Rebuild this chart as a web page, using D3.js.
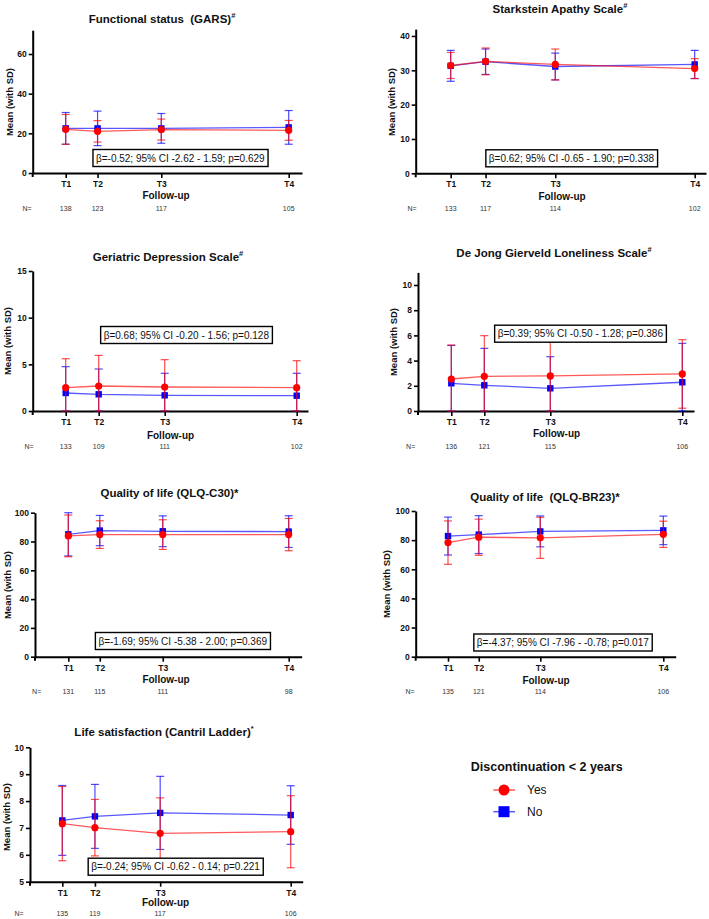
<!DOCTYPE html>
<html><head><meta charset="utf-8">
<script src="https://cdn.jsdelivr.net/npm/d3@7"></script>
<style>
body{margin:0;background:#fff}
svg{display:block}
text{font-family:"Liberation Sans",Arial,Helvetica,sans-serif;white-space:pre}
</style>
</head><body>
<svg id="c" width="709" height="919"></svg>
<script>
// ---------- DATA ----------
const timepoints = ["T1", "T2", "T3", "T4"];
const timeValues = [0, 1, 3, 7];
const seriesNames = ["Yes", "No"];
const legendTitle = "Discontinuation < 2 years";

const garsYesMean = [22.0, 21.0, 21.9, 21.5];
const garsYesSD   = [7.5, 5.4, 5.3, 5.0];
const garsNoMean  = [22.5, 22.5, 22.5, 23.0];
const garsNoSD    = [8.0, 8.7, 7.5, 8.5];
const garsN       = [138, 123, 117, 105];

const apathyYesMean = [31.4, 32.6, 31.7, 30.5];
const apathyYesSD   = [3.8, 3.9, 4.5, 2.9];
const apathyNoMean  = [31.3, 32.5, 31.1, 31.7];
const apathyNoSD    = [4.5, 3.7, 3.9, 4.1];
const apathyN       = [133, 117, 114, 102];

const gdsYesMean = [2.5, 2.68, 2.57, 2.5];
const gdsYesSD   = [3.1, 3.28, 2.93, 2.89];
const gdsNoMean  = [1.93, 1.79, 1.68, 1.64];
const gdsNoSD    = [2.82, 2.71, 2.36, 2.4];
const gdsN       = [133, 109, 111, 102];

const lonelyYesMean = [2.54, 2.75, 2.78, 2.94];
const lonelyYesSD   = [2.7, 3.23, 2.78, 2.72];
const lonelyNoMean  = [2.2, 2.04, 1.8, 2.28];
const lonelyNoSD    = [3.0, 2.93, 2.51, 3.09];
const lonelyN       = [136, 121, 115, 106];

const c30YesMean = [83.9, 84.8, 84.8, 84.8];
const c30YesSD   = [14.5, 9.6, 10.3, 11.2];
const c30NoMean  = [85.0, 87.6, 87.1, 86.9];
const c30NoSD    = [15.0, 10.5, 10.7, 11.0];
const c30N       = [131, 115, 111, 98];

const br23YesMean = [78.3, 82.0, 81.6, 84.0];
const br23YesSD   = [14.9, 12.4, 14.1, 9.0];
const br23NoMean  = [82.8, 83.8, 86.0, 86.7];
const br23NoSD    = [13.0, 13.0, 10.6, 9.8];
const br23N       = [135, 121, 114, 106];

const cantrilYesMean = [7.16, 7.01, 6.80, 6.86];
const cantrilYesSD   = [1.38, 1.05, 1.32, 1.34];
const cantrilNoMean  = [7.28, 7.43, 7.56, 7.48];
const cantrilNoSD    = [1.30, 1.19, 1.36, 1.09];
const cantrilN       = [135, 119, 117, 106];

const panelTitles = ["Functional status  (GARS)", "Starkstein Apathy Scale", "Geriatric Depression Scale",
  "De Jong Gierveld Loneliness Scale", "Quality of life (QLQ-C30)*", "Quality of life  (QLQ-BR23)*",
  "Life satisfaction (Cantril Ladder)"];
const titleSups = ["#", "#", "#", "#", "", "", "*"];
const statTexts = [
  "β=-0.52; 95% CI -2.62 - 1.59; p=0.629",
  "β=0.62; 95% CI -0.65 - 1.90; p=0.338",
  "β=0.68; 95% CI -0.20 - 1.56; p=0.128",
  "β=0.39; 95% CI -0.50 - 1.28; p=0.386",
  "β=-1.69; 95% CI -5.38 - 2.00; p=0.369",
  "β=-4.37; 95% CI -7.96 - -0.78; p=0.017",
  "β=-0.24; 95% CI -0.62 - 0.14; p=0.221"];
const yTickSets = [[0,20,40,60],[0,10,20,30,40],[0,5,10,15],[0,2,4,6,8,10],[0,20,40,60,80,100],[0,20,40,60,80,100],[5,6,7,8,9,10]];
const yDomains = [[0,72],[0,42],[0,15],[0,11],[0,100],[0,100],[5,10]];

// ---------- LAYOUT (positions only) ----------
const layouts = [
  {ax:32.7, right:302, t1:65.7, t4:288.7, yr:[173,30.2], tx:162, ty:23, ylx:9, yly:102, fx:166, fy:198.5, ny:210.5, nx:27, bx:180.3, by:158},
  {ax:415.7, right:706, t1:450.7, t4:694.7, yr:[173.3,29.1], tx:560, ty:13, ylx:391.5, yly:102, fx:562, fy:200, ny:210.5, nx:412, bx:571.5, by:158.3},
  {ax:32.7, right:308, t1:65.7, t4:296.7, yr:[411,271], tx:168, ty:260.5, ylx:7.5, yly:341, fx:170.5, fy:438.5, ny:449, nx:29, bx:186.3, by:335},
  {ax:418, right:694, t1:451.3, t4:682.3, yr:[411,272.4], tx:554, ty:257, ylx:393, yly:342, fx:556.5, fy:437, ny:449, nx:410.7, bx:580.3, by:333.7},
  {ax:35, right:301.7, t1:68.3, t4:288.7, yr:[656.7,512.7], tx:169.5, ty:496.5, ylx:7.5, yly:585, fx:166, fy:682.5, ny:693.5, nx:36.7, bx:182.7, by:641},
  {ax:415.7, right:675.7, t1:448, t4:663.3, yr:[656.7,511], tx:545, ty:500.5, ylx:386.5, yly:584, fx:546, fy:684, ny:693.5, nx:410, bx:562.8, by:642.5},
  {ax:30, right:302.7, t1:62.3, t4:290.7, yr:[881.7,747.3], tx:164, ty:735.5, ylx:6, yly:817, fx:165.5, fy:905.5, ny:916, nx:19, bx:175.5, by:866.7}
];

const panelData = [
  [garsYesMean, garsYesSD, garsNoMean, garsNoSD, garsN],
  [apathyYesMean, apathyYesSD, apathyNoMean, apathyNoSD, apathyN],
  [gdsYesMean, gdsYesSD, gdsNoMean, gdsNoSD, gdsN],
  [lonelyYesMean, lonelyYesSD, lonelyNoMean, lonelyNoSD, lonelyN],
  [c30YesMean, c30YesSD, c30NoMean, c30NoSD, c30N],
  [br23YesMean, br23YesSD, br23NoMean, br23NoSD, br23N],
  [cantrilYesMean, cantrilYesSD, cantrilNoMean, cantrilNoSD, cantrilN]
];

const RED = "#ff0000", BLUE = "#0000ff";
const svg = d3.select("#c");

panelData.forEach((pd, i) => {
  const L = layouts[i];
  const [yesM, yesS, noM, noS, nArr] = pd;
  const g = svg.append("g");
  const xBase = d3.scaleLinear().domain([timeValues[0], timeValues[3]]).range([L.t1, L.t4]);
  const x = d3.scaleLinear().domain([xBase.invert(L.ax), xBase.invert(L.right)]).range([L.ax, L.right]);
  const dom = yDomains[i];
  const y = d3.scaleLinear().domain(dom).range(L.yr);

  // axes
  const xa = g.append("g").attr("transform", `translate(0,${L.yr[0]})`)
    .call(d3.axisBottom(x).tickValues(timeValues).tickFormat((d, k) => timepoints[k]).tickSize(5).tickPadding(3).tickSizeOuter(0));
  const ya = g.append("g").attr("transform", `translate(${L.ax},0)`)
    .call(d3.axisLeft(y).tickValues(yTickSets[i]).tickFormat(d3.format("d")).tickSize(4).tickPadding(2).tickSizeOuter(0));
  [xa, ya].forEach(a => {
    a.attr("font-family", null).attr("font-size", null);
    a.select(".domain").attr("stroke", "#000").attr("stroke-width", 2);
    a.selectAll(".tick line").attr("stroke", "#000").attr("stroke-width", 1.6);
    a.selectAll(".tick text").attr("fill", "#111").style("font-size", "8.5px").style("font-weight", "bold");
  });
  g.append("line").attr("x1", L.ax).attr("x2", L.ax).attr("y1", L.yr[0]).attr("y2", L.yr[0] + 4)
    .attr("stroke", "#000").attr("stroke-width", 2);

  // titles and labels
  const t = g.append("text").attr("x", L.tx).attr("y", L.ty).attr("text-anchor", "middle")
    .style("font-size", "11.5px").style("font-weight", "bold").attr("fill", "#111");
  t.append("tspan").text(panelTitles[i]);
  if (titleSups[i]) t.append("tspan").attr("dy", -5).style("font-size", "7.5px").text(titleSups[i]);

  g.append("text").attr("transform", `translate(${L.ylx + 3.5},${L.yly}) rotate(-90)`).attr("text-anchor", "middle")
    .style("font-size", "9.5px").style("font-weight", "bold").attr("fill", "#111").text("Mean (with SD)");
  g.append("text").attr("x", L.fx).attr("y", L.fy).attr("text-anchor", "middle")
    .style("font-size", "10px").style("font-weight", "bold").attr("fill", "#111").text("Follow-up");

  // N row
  g.append("text").attr("x", L.nx).attr("y", L.ny).attr("text-anchor", "middle")
    .style("font-size", "7px").attr("fill", "#333").text("N=");
  g.selectAll("text.n").data(nArr).enter().append("text").attr("class", "n")
    .attr("x", (d, k) => x(timeValues[k])).attr("y", L.ny).attr("text-anchor", "middle")
    .style("font-size", "7px").attr("fill", "#333").text(d => d);

  // series: No (blue) first, then Yes (red)
  const series = [
    {m: noM, s: noS, color: BLUE, shape: "square"},
    {m: yesM, s: yesS, color: RED, shape: "circle"}
  ];
  series.forEach(S => {
    const pts = S.m.map((v, k) => ({t: timeValues[k], m: v, lo: Math.max(v - S.s[k], dom[0]), hi: Math.min(v + S.s[k], dom[1] + 2)}));
    const sg = g.append("g");
    const eb = sg.selectAll("g.eb").data(pts).enter().append("g").attr("class", "eb").attr("stroke", S.color)
      .attr("stroke-opacity", 0.7).attr("stroke-width", 1.2);
    eb.append("line").attr("x1", d => x(d.t)).attr("x2", d => x(d.t)).attr("y1", d => y(d.lo)).attr("y2", d => y(d.hi));
    eb.append("line").attr("x1", d => x(d.t) - 4).attr("x2", d => x(d.t) + 4).attr("y1", d => y(d.hi)).attr("y2", d => y(d.hi));
    eb.append("line").attr("x1", d => x(d.t) - 4).attr("x2", d => x(d.t) + 4).attr("y1", d => y(d.lo)).attr("y2", d => y(d.lo));
    sg.append("path").datum(pts).attr("fill", "none").attr("stroke", S.color).attr("stroke-opacity", 0.65)
      .attr("stroke-width", 1.3).attr("d", d3.line().x(d => x(d.t)).y(d => y(d.m)));
    if (S.shape === "circle") {
      sg.selectAll("circle").data(pts).enter().append("circle")
        .attr("cx", d => x(d.t)).attr("cy", d => y(d.m)).attr("r", 3.6).attr("fill", S.color);
    } else {
      sg.selectAll("rect").data(pts).enter().append("rect")
        .attr("x", d => x(d.t) - 3.2).attr("y", d => y(d.m) - 3.2).attr("width", 6.4).attr("height", 6.4).attr("fill", S.color);
    }
  });

  // stat box
  const bt = g.append("text").attr("x", L.bx).attr("y", L.by).attr("text-anchor", "middle")
    .attr("dominant-baseline", "central").style("font-size", "10px").attr("fill", "#111").text(statTexts[i]);
  const bb = bt.node().getBBox();
  g.insert("rect", () => bt.node()).attr("x", bb.x - 3).attr("y", L.by - 8.5).attr("width", bb.width + 6).attr("height", 17)
    .attr("fill", "#fff").attr("stroke", "#000").attr("stroke-width", 1.4);
});

// legend
const lg = svg.append("g");
lg.append("text").attr("x", 546.7).attr("y", 771).attr("text-anchor", "middle")
  .style("font-size", "12.5px").style("font-weight", "bold").attr("fill", "#111").text(legendTitle);
const legendRows = [{name: seriesNames[0], color: RED, shape: "circle", y: 790},
                    {name: seriesNames[1], color: BLUE, shape: "square", y: 811.7}];
legendRows.forEach(r => {
  lg.append("line").attr("x1", 493.3).attr("x2", 515).attr("y1", r.y).attr("y2", r.y)
    .attr("stroke", r.color).attr("stroke-opacity", 0.65).attr("stroke-width", 1.5);
  if (r.shape === "circle") lg.append("circle").attr("cx", 504).attr("cy", r.y).attr("r", 5.5).attr("fill", r.color);
  else lg.append("rect").attr("x", 498.5).attr("y", r.y - 5.5).attr("width", 11).attr("height", 11).attr("fill", r.color);
  lg.append("text").attr("x", 527).attr("y", r.y + 4.3).style("font-size", "12px").attr("fill", "#111").text(r.name);
});
</script>
</body></html>
